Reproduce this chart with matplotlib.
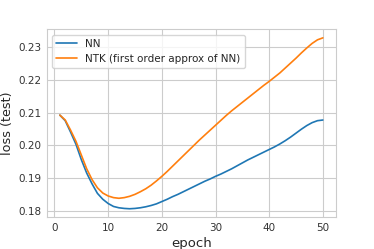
import matplotlib
matplotlib.use("Agg")
import matplotlib.pyplot as plt
import seaborn as sns

epochs = list(range(1, 51))

loss_nn = [
    0.2092, 0.2075, 0.2040, 0.2003, 0.1956, 0.1915, 0.1882, 0.1853, 0.1835, 0.1822,
    0.1813, 0.1809, 0.1807, 0.1806, 0.1807, 0.1809, 0.1812, 0.1816, 0.1821, 0.1828,
    0.1835, 0.1843, 0.1850, 0.1858, 0.1866, 0.1874, 0.1882, 0.1890, 0.1897, 0.1905,
    0.1912, 0.1920, 0.1928, 0.1937, 0.1946, 0.1955, 0.1963, 0.1971, 0.1979, 0.1987,
    0.1995, 0.2004, 0.2014, 0.2025, 0.2037, 0.2049, 0.2060, 0.2069, 0.2075, 0.2077,
]

loss_ntk = [
    0.2092, 0.2077, 0.2046, 0.2012, 0.1970, 0.1928, 0.1895, 0.1870, 0.1854, 0.1845,
    0.1840, 0.1838, 0.1840, 0.1844, 0.1850, 0.1858, 0.1867, 0.1878, 0.1891, 0.1905,
    0.1920, 0.1936, 0.1952, 0.1968, 0.1984, 0.2000, 0.2016, 0.2031, 0.2046, 0.2061,
    0.2076, 0.2091, 0.2105, 0.2118, 0.2131, 0.2144, 0.2157, 0.2170, 0.2183, 0.2195,
    0.2208, 0.2221, 0.2236, 0.2251, 0.2266, 0.2282, 0.2297, 0.2311, 0.2322, 0.2328,
]

labels = ["NN", "NTK (first order approx of NN)"]


def draw(ax):
    ax.plot(epochs, loss_nn, color="#1f77b4", lw=1.2, label=labels[0])
    ax.plot(epochs, loss_ntk, color="#ff7f0e", lw=1.2, label=labels[1])
    ax.set_xlabel("epoch", fontsize=9.5, labelpad=3)
    ax.set_ylabel("loss (test)", fontsize=9.2, labelpad=3)
    ax.set_xticks([0, 10, 20, 30, 40, 50])
    ax.set_yticks([0.18, 0.19, 0.20, 0.21, 0.22, 0.23])
    ax.tick_params(labelsize=7.5, length=0, pad=4, colors=".2")
    ax.legend(loc="upper left", fontsize=7.5, frameon=True)


if __name__ == "__main__":
    sns.set_style("whitegrid")
    plt.rcParams["font.family"] = ["DejaVu Sans"]
    fig = plt.figure(figsize=(3.74, 2.49), dpi=100)
    ax = fig.add_axes([0.1249, 0.1273, 0.7735, 0.755])
    draw(ax)
    fig.savefig("out.png", dpi=100)
